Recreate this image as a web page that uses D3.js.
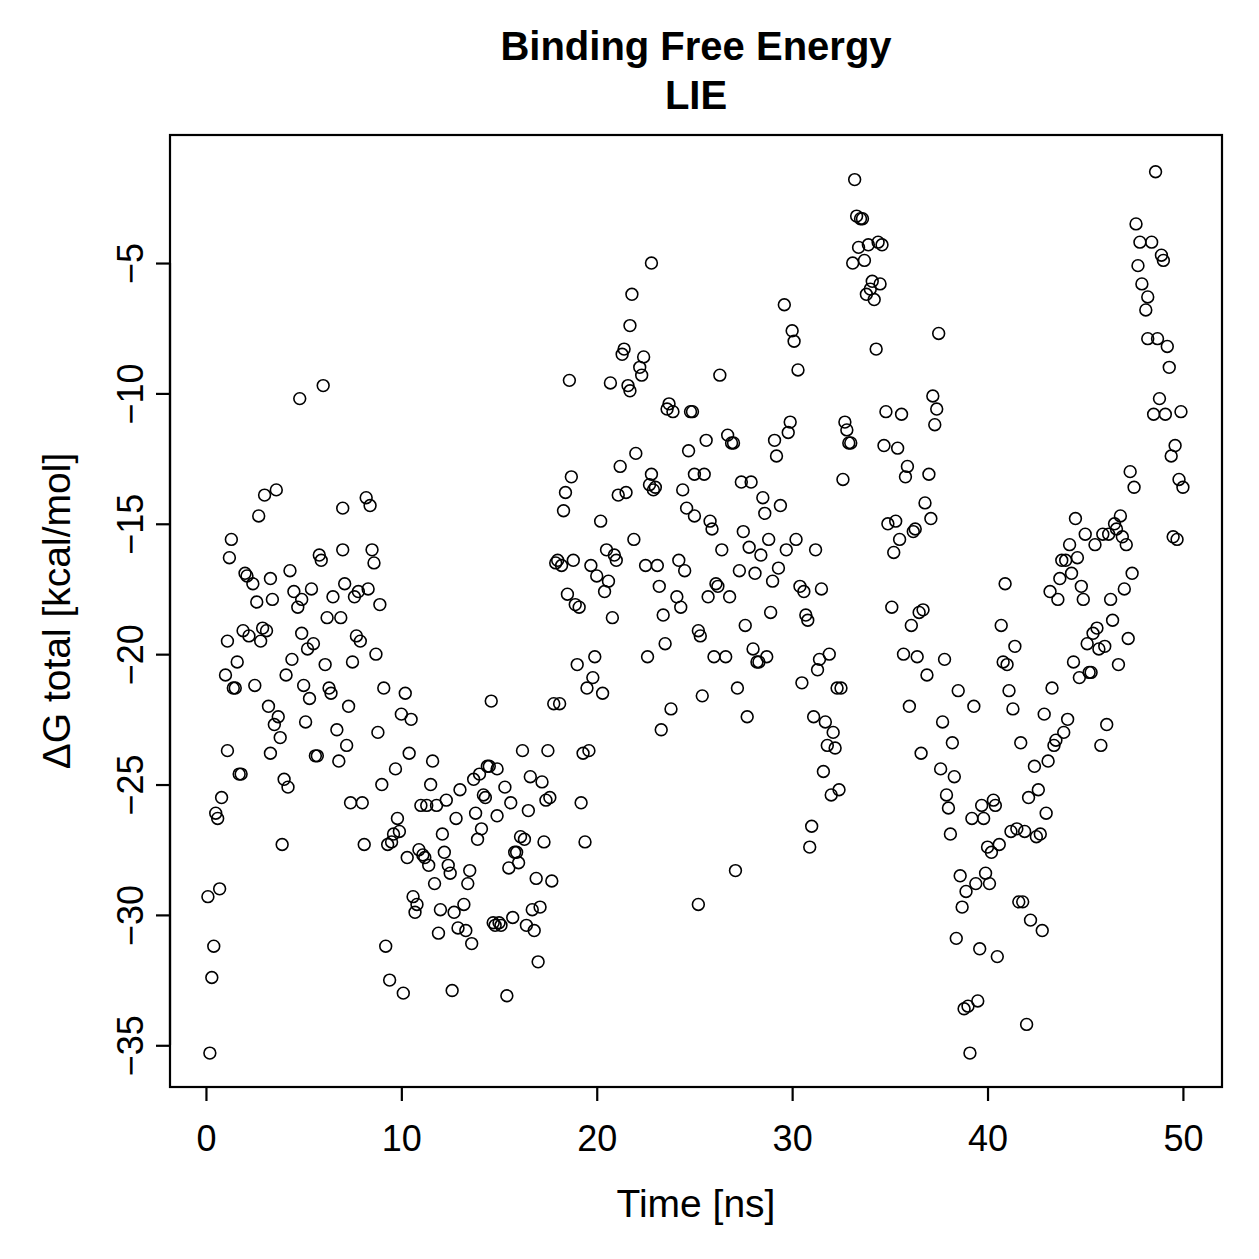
<!DOCTYPE html>
<html>
<head>
<meta charset="utf-8">
<script src="https://cdn.jsdelivr.net/npm/d3@7"></script>
<style>
  html, body { margin: 0; padding: 0; background: #fff; }
  text { font-family: "Liberation Sans", Arial, sans-serif; fill: #000; }
</style>
</head>
<body>
<div id="chart"></div>
<script>
// LIE binding free energy over the trajectory
const timeNs = [
  0.1,0.2,0.3,0.4,0.5,0.6,0.7,0.8,1.0,1.1,1.1,1.2,1.3,1.4,1.5,1.6,1.7,1.8,1.9,2.0,
  2.1,2.2,2.4,2.5,2.6,2.7,2.8,2.9,3.0,3.1,3.2,3.3,3.3,3.4,3.5,3.6,3.7,3.8,3.9,4.0,
  4.1,4.2,4.3,4.4,4.5,4.7,4.8,4.9,4.9,5.0,5.1,5.2,5.3,5.4,5.5,5.6,5.7,5.8,5.9,6.0,
  6.1,6.2,6.3,6.4,6.5,6.7,6.8,6.9,7.0,7.0,7.1,7.2,7.3,7.4,7.5,7.6,7.7,7.8,7.9,8.0,
  8.1,8.2,8.3,8.4,8.5,8.6,8.7,8.8,8.9,9.0,9.1,9.2,9.3,9.4,9.5,9.6,9.7,9.8,9.9,10.0,
  10.1,10.2,10.3,10.4,10.5,10.6,10.7,10.8,10.9,11.0,11.1,11.2,11.3,11.4,11.5,11.6,11.7,11.8,11.9,12.0,
  12.1,12.2,12.3,12.4,12.5,12.6,12.7,12.8,12.9,13.0,13.2,13.3,13.4,13.5,13.6,13.7,13.8,13.9,14.0,14.1,
  14.2,14.3,14.4,14.5,14.6,14.7,14.8,14.9,14.9,15.0,15.1,15.3,15.4,15.5,15.6,15.7,15.8,15.9,16.0,16.1,
  16.2,16.3,16.4,16.5,16.6,16.7,16.8,16.9,17.0,17.1,17.2,17.3,17.4,17.5,17.6,17.7,17.8,17.9,18.0,18.1,
  18.2,18.3,18.4,18.5,18.6,18.7,18.8,18.9,19.0,19.1,19.2,19.3,19.4,19.5,19.6,19.7,19.8,19.9,20.0,20.2,
  20.3,20.4,20.5,20.6,20.7,20.8,20.9,21.0,21.1,21.2,21.3,21.4,21.5,21.6,21.7,21.7,21.8,21.9,22.0,22.2,
  22.3,22.4,22.5,22.6,22.7,22.8,22.8,22.9,23.0,23.1,23.2,23.3,23.4,23.5,23.6,23.7,23.8,23.9,24.1,24.2,
  24.3,24.4,24.5,24.6,24.7,24.8,24.9,25.0,25.0,25.2,25.2,25.3,25.4,25.5,25.6,25.7,25.8,25.9,26.0,26.1,
  26.2,26.3,26.4,26.6,26.7,26.8,26.9,27.0,27.1,27.2,27.3,27.4,27.5,27.6,27.7,27.8,27.9,28.0,28.1,28.2,
  28.3,28.4,28.5,28.6,28.7,28.8,28.9,29.0,29.1,29.2,29.3,29.4,29.6,29.7,29.8,29.9,30.0,30.1,30.2,30.3,
  30.4,30.5,30.6,30.7,30.8,30.9,31.0,31.1,31.2,31.3,31.4,31.5,31.6,31.7,31.8,31.9,32.0,32.1,32.2,32.3,
  32.4,32.5,32.6,32.7,32.8,32.9,33.0,33.1,33.2,33.3,33.4,33.5,33.6,33.7,33.8,33.9,34.0,34.1,34.2,34.3,
  34.4,34.5,34.6,34.7,34.8,34.9,35.1,35.2,35.3,35.4,35.5,35.6,35.7,35.8,35.9,36.0,36.1,36.2,36.3,36.4,
  36.5,36.6,36.7,36.8,36.9,37.0,37.1,37.2,37.3,37.4,37.5,37.6,37.7,37.8,37.9,38.0,38.1,38.2,38.3,38.4,
  38.5,38.6,38.7,38.8,38.9,39.0,39.1,39.2,39.3,39.4,39.5,39.6,39.7,39.8,39.9,40.0,40.1,40.2,40.3,40.4,
  40.5,40.6,40.7,40.8,40.9,41.0,41.1,41.2,41.3,41.4,41.5,41.6,41.7,41.8,41.9,42.0,42.1,42.2,42.4,42.5,
  42.6,42.7,42.8,42.9,43.0,43.1,43.2,43.3,43.4,43.5,43.6,43.7,43.8,43.9,44.0,44.1,44.2,44.3,44.4,44.5,
  44.6,44.7,44.8,44.9,45.0,45.1,45.2,45.3,45.4,45.5,45.6,45.7,45.8,45.9,46.0,46.1,46.2,46.3,46.4,46.5,
  46.6,46.7,46.8,46.9,47.0,47.1,47.2,47.3,47.4,47.5,47.6,47.7,47.8,47.9,48.1,48.2,48.2,48.4,48.5,48.6,
  48.7,48.8,48.9,49.0,49.1,49.2,49.3,49.4,49.5,49.6,49.7,49.8,49.9,50.0
];

const dGtotal = [
  -29.3,-35.3,-32.4,-31.2,-26.1,-26.3,-29.0,-25.5,-20.8,-19.5,-23.7,-16.3,-15.6,-21.3,-21.3,-20.3,-24.6,-24.6,-19.1,-16.9,
  -17.0,-19.3,-17.3,-21.2,-18.0,-14.7,-19.5,-19.0,-13.9,-19.1,-22.0,-23.8,-17.1,-17.9,-22.7,-13.7,-22.4,-23.2,-27.3,-24.8,
  -20.8,-25.1,-16.8,-20.2,-17.6,-18.2,-10.2,-17.9,-19.2,-21.2,-22.6,-19.8,-21.7,-17.5,-19.6,-23.9,-23.9,-16.2,-16.4,-9.7,
  -20.4,-18.6,-21.3,-21.5,-17.8,-22.9,-24.1,-18.6,-16.0,-14.4,-17.3,-23.5,-22.0,-25.7,-20.3,-17.8,-19.3,-17.6,-19.5,-25.7,
  -27.3,-14.0,-17.5,-14.3,-16.0,-16.5,-20.0,-23.0,-18.1,-25.0,-21.3,-31.2,-27.3,-32.5,-27.2,-26.9,-24.4,-26.3,-26.8,-22.3,
  -33.0,-21.5,-27.8,-23.8,-22.5,-29.3,-29.9,-29.6,-27.5,-25.8,-27.7,-27.8,-25.8,-28.1,-25.0,-24.1,-28.8,-25.8,-30.7,-29.8,
  -26.9,-27.6,-25.6,-28.1,-28.4,-32.9,-29.9,-26.3,-30.5,-25.2,-29.6,-30.6,-28.8,-28.3,-31.1,-24.8,-26.1,-27.1,-24.6,-26.7,
  -25.4,-25.5,-24.3,-24.3,-21.8,-30.3,-30.4,-24.4,-26.2,-30.3,-30.4,-25.1,-33.1,-28.2,-25.7,-30.1,-27.6,-27.6,-28.0,-27.0,
  -23.7,-27.1,-30.4,-26.0,-24.7,-29.8,-30.6,-28.6,-31.8,-29.7,-24.9,-27.2,-25.6,-23.7,-25.5,-28.7,-21.9,-16.5,-16.4,-21.9,
  -16.6,-14.5,-13.8,-17.7,-9.5,-13.2,-16.4,-18.1,-20.4,-18.2,-25.7,-23.8,-27.2,-21.3,-23.7,-16.6,-20.9,-20.1,-17.0,-14.9,
  -21.5,-17.6,-16.0,-17.2,-9.6,-18.6,-16.2,-16.4,-13.9,-12.8,-8.5,-8.3,-13.8,-9.7,-7.4,-9.9,-6.2,-15.6,-12.3,-9.0,
  -9.3,-8.6,-16.6,-20.1,-13.5,-5.0,-13.1,-13.7,-13.6,-16.6,-17.4,-22.9,-18.5,-19.6,-10.6,-10.4,-22.1,-10.7,-17.8,-16.4,
  -18.2,-13.7,-16.8,-14.4,-12.2,-10.7,-10.7,-14.7,-13.1,-19.1,-29.6,-19.3,-21.6,-13.1,-11.8,-17.8,-14.9,-15.2,-20.1,-17.3,
  -17.4,-9.3,-16.0,-20.1,-11.6,-17.8,-11.9,-11.9,-28.3,-21.3,-16.8,-13.4,-15.3,-18.9,-22.4,-15.9,-13.4,-19.8,-16.9,-20.3,
  -20.3,-16.2,-14.0,-14.6,-20.1,-15.6,-18.4,-17.2,-11.8,-12.4,-16.7,-14.3,-6.6,-16.0,-11.5,-11.1,-7.6,-8.0,-15.6,-9.1,
  -17.4,-21.1,-17.6,-18.5,-18.7,-27.4,-26.6,-22.4,-16.0,-20.6,-20.2,-17.5,-24.5,-22.6,-23.5,-20.0,-25.4,-23.0,-23.6,-21.3,
  -25.2,-21.3,-13.3,-11.1,-11.4,-11.9,-11.9,-5.0,-1.8,-3.2,-4.4,-3.3,-3.3,-4.9,-6.2,-4.3,-6.0,-5.7,-6.4,-8.3,
  -4.2,-5.8,-4.3,-12.0,-10.7,-15.0,-18.2,-16.1,-14.9,-12.1,-15.6,-10.8,-20.0,-13.2,-12.8,-22.0,-18.9,-15.3,-15.2,-20.1,
  -18.4,-23.8,-18.3,-14.2,-20.8,-13.1,-14.8,-10.1,-11.2,-10.6,-7.7,-24.4,-22.6,-20.2,-25.4,-25.9,-26.9,-23.4,-24.7,-30.9,
  -21.4,-28.5,-29.7,-33.6,-29.1,-33.5,-35.3,-26.3,-22.0,-28.8,-33.3,-31.3,-25.8,-26.3,-28.4,-27.4,-28.8,-27.6,-25.6,-25.8,
  -31.6,-27.3,-18.9,-20.3,-17.3,-20.4,-21.4,-26.8,-22.1,-19.7,-26.7,-29.5,-23.4,-29.5,-26.8,-34.2,-25.5,-30.2,-24.3,-27.0,
  -25.2,-26.9,-30.6,-22.3,-26.1,-24.1,-17.6,-21.3,-23.5,-23.3,-17.9,-17.1,-16.4,-23.0,-16.4,-22.5,-15.8,-16.9,-20.3,-14.8,
  -16.3,-20.9,-17.4,-17.9,-15.4,-19.6,-20.7,-20.7,-19.2,-15.8,-19.0,-19.8,-23.5,-15.4,-19.7,-22.7,-15.4,-17.9,-18.7,-15.0,
  -15.2,-20.4,-14.7,-15.5,-17.5,-15.8,-19.4,-13.0,-16.9,-13.6,-3.5,-5.1,-4.2,-5.8,-6.8,-7.9,-6.3,-4.2,-10.8,-1.5,
  -7.9,-10.2,-4.7,-4.9,-10.8,-8.2,-9.0,-12.4,-15.5,-12.0,-15.6,-13.3,-10.7,-13.6
];

const xTicks = [0, 10, 20, 30, 40, 50];
const yTicks = [-5, -10, -15, -20, -25, -30, -35];

const W = 1259, H = 1259;
const box = { left: 170, right: 1222, top: 135, bottom: 1087 };
const FONT = '"Liberation Sans", Arial, sans-serif';

const svg = d3.select('#chart').append('svg')
  .attr('width', W).attr('height', H);

const x = d3.scaleLinear().domain([-1.84, 52.0]).range([box.left, box.right]);
const y = d3.scaleLinear().domain([-0.09, -36.6]).range([box.top, box.bottom]);

// title
svg.append('text').attr('x', 696).attr('y', 60).attr('text-anchor', 'middle')
  .style('font-size', '40px').style('font-weight', 'bold').text('Binding Free Energy');
svg.append('text').attr('x', 696).attr('y', 109).attr('text-anchor', 'middle')
  .style('font-size', '40px').style('font-weight', 'bold').text('LIE');

// points
svg.append('g').selectAll('circle').data(timeNs).join('circle')
  .attr('cx', d => x(d))
  .attr('cy', (d, i) => y(dGtotal[i]))
  .attr('r', 5.9)
  .attr('fill', 'none')
  .attr('stroke', '#000')
  .attr('stroke-width', 1.6);

// frame
svg.append('rect')
  .attr('x', box.left).attr('y', box.top)
  .attr('width', box.right - box.left).attr('height', box.bottom - box.top)
  .attr('fill', 'none').attr('stroke', '#000').attr('stroke-width', 2.2);

// x axis
const gx = svg.append('g').attr('transform', `translate(0,${box.bottom})`)
  .call(d3.axisBottom(x).tickValues(xTicks).tickSize(14).tickSizeOuter(0));
gx.select('.domain').attr('d', `M${x(0)},0H${x(50)}`).attr('stroke-width', 2.2);
gx.selectAll('.tick line').attr('stroke-width', 2.2);
gx.selectAll('.tick text')
  .attr('y', 64).attr('dy', null)
  .style('font-size', '36px').style('font-family', FONT);

// y axis, labels parallel to the axis
const gy = svg.append('g').attr('transform', `translate(${box.left},0)`)
  .call(d3.axisLeft(y).tickValues(yTicks).tickSize(14).tickSizeOuter(0));
gy.select('.domain').attr('d', `M0,${y(-5)}V${y(-35)}`).attr('stroke-width', 2.2);
gy.selectAll('.tick line').attr('stroke-width', 2.2);
gy.selectAll('.tick text')
  .attr('x', null).attr('dy', null)
  .attr('text-anchor', 'middle')
  .attr('transform', 'translate(-27,0) rotate(-90)')
  .style('font-size', '36px').style('font-family', FONT);

// axis titles
svg.append('text').attr('x', 696).attr('y', 1217).attr('text-anchor', 'middle')
  .style('font-size', '39px').text('Time [ns]');
svg.append('text').attr('transform', `translate(70,${(box.top + box.bottom) / 2}) rotate(-90)`)
  .attr('text-anchor', 'middle').style('font-size', '39px').text('ΔG total [kcal/mol]');
</script>
</body>
</html>
